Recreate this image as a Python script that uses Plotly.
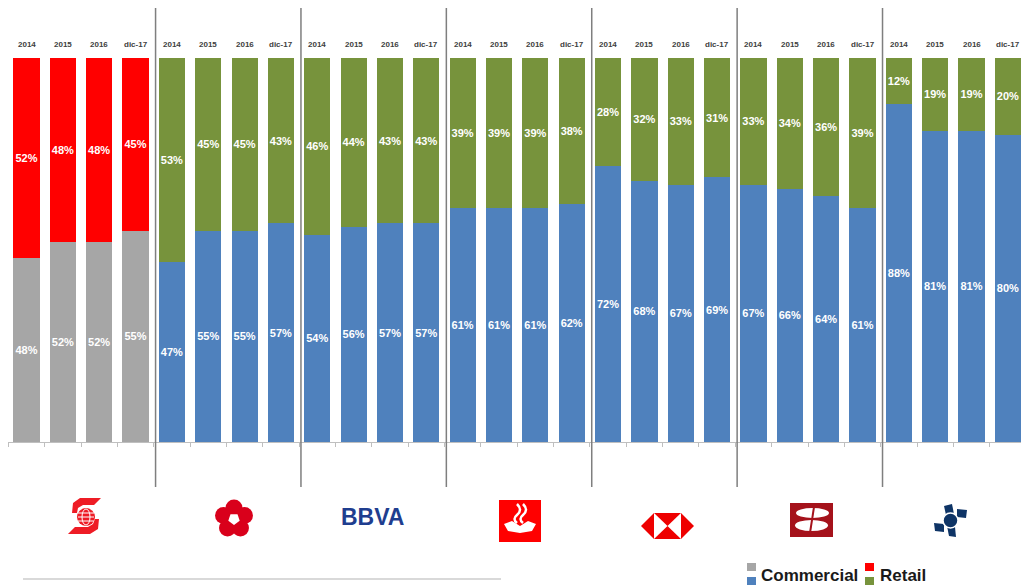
import math
import plotly.graph_objects as go

# bank groups, left to right
banks = ["Scotiabank", "Banamex", "BBVA", "Santander", "HSBC", "Banorte", "Inbursa"]
periods = ["2014", "2015", "2016", "dic-17"]

commercial = [
    [48, 52, 52, 55],
    [47, 55, 55, 57],
    [54, 56, 57, 57],
    [61, 61, 61, 62],
    [72, 68, 67, 69],
    [67, 66, 64, 61],
    [88, 81, 81, 80],
]
retail = [
    [52, 48, 48, 45],
    [53, 45, 45, 43],
    [46, 44, 43, 43],
    [39, 39, 39, 38],
    [28, 32, 33, 31],
    [33, 34, 36, 39],
    [12, 19, 19, 20],
]

GRAY, RED = "#A6A6A6", "#FF0000"
BLUE, GREEN = "#4F81BD", "#77933C"

W, H = 1021, 588
ML, MR, MT, MB = 8, 0, 58, 146
PW, PH = W - ML - MR, H - MT - MB


def px(x):
    return (x - ML) / PW


def py(y):
    return (H - MB - y) / PH


def path(points):
    return "M " + " L ".join(f"{px(x):.5f},{py(y):.5f}" for x, y in points) + " Z"


xs, com_vals, ret_vals, com_cols, ret_cols = [], [], [], [], []
for g, bank in enumerate(banks):
    for p in range(len(periods)):
        xs.append(g * 4 + p)
        com_vals.append(commercial[g][p])
        ret_vals.append(retail[g][p])
        com_cols.append(GRAY if g == 0 else BLUE)
        ret_cols.append(RED if g == 0 else GREEN)

label_font = {"family": "Liberation Sans, Arial, sans-serif", "size": 11, "color": "white",
              "weight": "bold"}

fig = go.Figure()
fig.add_trace(go.Bar(
    x=xs, y=com_vals, marker={"color": com_cols, "line": {"width": 0}},
    text=[f"{v}%" for v in com_vals], textposition="inside", insidetextanchor="middle",
    textangle=0, textfont=label_font, hoverinfo="skip", name="Commercial",
))
fig.add_trace(go.Bar(
    x=xs, y=ret_vals, marker={"color": ret_cols, "line": {"width": 0}},
    text=[f"{v}%" for v in ret_vals], textposition="inside", insidetextanchor="middle",
    textangle=0, textfont=label_font, hoverinfo="skip", name="Retail",
))

shapes = []
annotations = []

# group separators
for g in range(1, len(banks)):
    shapes.append(dict(type="line", xref="x", yref="paper", x0=g * 4 - 0.45, x1=g * 4 - 0.45,
                       y0=py(487), y1=py(8), line={"color": "#7F7F7F", "width": 1.5}))

# period labels on top
for x in xs:
    annotations.append(dict(x=x, y=py(44), xref="x", yref="paper", yanchor="middle",
                            text=f"<b>{periods[x % 4]}</b>", showarrow=False,
                            font={"family": "Liberation Sans, Arial", "size": 8, "color": "#404040"}))

# --- logos (rough drawings) ---
red_s = "#EE1C25"
# Scotiabank
shapes += [
    dict(type="path", xref="paper", yref="paper", line={"width": 0}, fillcolor=red_s,
         path=path([(80, 498), (101, 498), (94, 505), (83, 505), (78, 508), (77, 513), (72, 513), (73, 503)])),
    dict(type="path", xref="paper", yref="paper", line={"width": 0}, fillcolor=red_s,
         path=path([(90, 534), (68, 534), (75, 527), (88, 527), (93, 524), (95, 519), (99, 519), (98, 529)])),
    dict(type="circle", xref="paper", yref="paper", line={"width": 0}, fillcolor=red_s,
         x0=px(77), x1=px(95), y0=py(508), y1=py(526)),
    dict(type="circle", xref="paper", yref="paper", line={"color": "white", "width": 1},
         x0=px(82), x1=px(90), y0=py(509), y1=py(525)),
]
for yy in (513, 517, 521):
    shapes.append(dict(type="line", xref="paper", yref="paper", x0=px(78), x1=px(94),
                       y0=py(yy), y1=py(yy), line={"color": "white", "width": 1}))

# Banamex rosette
bx, by = 234, 519
for k in range(5):
    a = math.radians(90 + 72 * k)
    cx, cy = bx + 11 * math.cos(a), by - 11 * math.sin(a)
    shapes.append(dict(type="circle", xref="paper", yref="paper", line={"width": 0},
                       fillcolor="#D9001B", x0=px(cx - 8.5), x1=px(cx + 8.5),
                       y0=py(cy + 8.5), y1=py(cy - 8.5)))
shapes.append(dict(type="path", xref="paper", yref="paper", line={"width": 0}, fillcolor="white",
                   path=path([(bx + 6 * math.cos(math.radians(90 + 72 * k + 36)),
                               by - 6 * math.sin(math.radians(90 + 72 * k + 36))) for k in range(5)])))

# BBVA
annotations.append(dict(x=px(372), y=py(517), xref="paper", yref="paper", yanchor="middle",
                        text="<b>BBVA</b>", showarrow=False,
                        font={"family": "Liberation Sans, Arial", "size": 23, "color": "#1F3E8F"}))

# Santander
shapes.append(dict(type="rect", xref="paper", yref="paper", line={"width": 0}, fillcolor="#FF0000",
                   x0=px(499), x1=px(541), y0=py(542), y1=py(500)))
shapes.append(dict(type="path", xref="paper", yref="paper", line={"width": 0}, fillcolor="white",
                   path=path([(504, 524), (512, 521), (520, 526), (528, 521), (536, 524), (532, 531),
                              (520, 533), (508, 531)])))
for dx in (-3, 3):
    shapes.append(dict(type="path", xref="paper", yref="paper", line={"color": "white", "width": 2.5},
                       path=f"M {px(520 + dx):.5f},{py(504):.5f} Q {px(526 + dx):.5f},{py(510):.5f} "
                            f"{px(520 + dx):.5f},{py(515):.5f} Q {px(515 + dx):.5f},{py(519):.5f} "
                            f"{px(520 + dx):.5f},{py(523):.5f}"))

# HSBC
shapes.append(dict(type="path", xref="paper", yref="paper", line={"width": 0}, fillcolor="#EE0000",
                   path=path([(641, 526), (654, 513), (681, 513), (694, 526), (681, 539), (654, 539)])))
shapes.append(dict(type="path", xref="paper", yref="paper", line={"width": 0}, fillcolor="white",
                   path=path([(654, 513), (667.5, 526), (654, 539)])))
shapes.append(dict(type="path", xref="paper", yref="paper", line={"width": 0}, fillcolor="white",
                   path=path([(681, 513), (667.5, 526), (681, 539)])))

# Banorte
shapes.append(dict(type="rect", xref="paper", yref="paper", line={"width": 0}, fillcolor="#A5121B",
                   x0=px(790), x1=px(833), y0=py(537), y1=py(503)))
shapes.append(dict(type="circle", xref="paper", yref="paper", line={"width": 0}, fillcolor="white",
                   x0=px(796), x1=px(829), y0=py(518), y1=py(508)))
shapes.append(dict(type="circle", xref="paper", yref="paper", line={"width": 0}, fillcolor="white",
                   x0=px(795), x1=px(828), y0=py(531), y1=py(520)))
shapes.append(dict(type="line", xref="paper", yref="paper", line={"color": "#A5121B", "width": 2},
                   x0=px(814), x1=px(810), y0=py(507), y1=py(533)))

# Inbursa
navy = "#0E3466"
for pts in ([(944, 506), (952, 504), (954, 514), (946, 515)],
            [(957, 509), (967, 510), (966, 518), (957, 517)],
            [(947, 526), (955, 527), (956, 537), (949, 536)],
            [(934, 523), (944, 524), (944, 532), (935, 531)]):
    shapes.append(dict(type="path", xref="paper", yref="paper", line={"width": 0}, fillcolor=navy,
                       path=path(pts)))
shapes.append(dict(type="circle", xref="paper", yref="paper", line={"color": "white", "width": 1.5},
                   fillcolor=navy, x0=px(943), x1=px(958), y0=py(528), y1=py(513)))

# legend
for (x0, y0, col) in ((747, 563, GRAY), (747, 577, BLUE), (865, 563, RED), (865, 577, GREEN)):
    shapes.append(dict(type="rect", xref="paper", yref="paper", line={"width": 0}, fillcolor=col,
                       x0=px(x0), x1=px(x0 + 9), y0=py(y0 + 8), y1=py(y0)))
annotations.append(dict(x=px(759), y=py(575), xref="paper", yref="paper", xanchor="left",
                        yanchor="middle", text="<b>Commercial</b>", showarrow=False,
                        font={"family": "Liberation Sans, Arial", "size": 17, "color": "#1A1A1A"}))
annotations.append(dict(x=px(878), y=py(575), xref="paper", yref="paper", xanchor="left",
                        yanchor="middle", text="<b>Retail</b>", showarrow=False,
                        font={"family": "Liberation Sans, Arial", "size": 17, "color": "#1A1A1A"}))

# footer rule
shapes.append(dict(type="line", xref="paper", yref="paper", x0=px(23), x1=px(501), y0=py(579), y1=py(579),
                   line={"color": "#D9D9D9", "width": 2}))

fig.update_layout(
    barmode="stack",
    bargap=0.28,
    width=W, height=H,
    margin={"l": ML, "r": MR, "t": MT, "b": MB},
    paper_bgcolor="white", plot_bgcolor="white",
    showlegend=False,
    shapes=shapes,
    annotations=annotations,
    uniformtext={"minsize": 11, "mode": "show"},
)
fig.update_xaxes(range=[-0.51, 27.36], showgrid=False, zeroline=False, showticklabels=False,
                 showline=True, linecolor="#BFBFBF", linewidth=1,
                 tickvals=[i + 0.5 for i in range(-1, 28)], ticks="outside", ticklen=4,
                 tickcolor="#BFBFBF")
fig.update_yaxes(range=[0, 100], visible=False)

# page body has a default 8px margin; drop it so the figure sits at the window corner
fig.write_html("out.html", config={"displayModeBar": False},
               post_script="document.body.style.margin='0';")
